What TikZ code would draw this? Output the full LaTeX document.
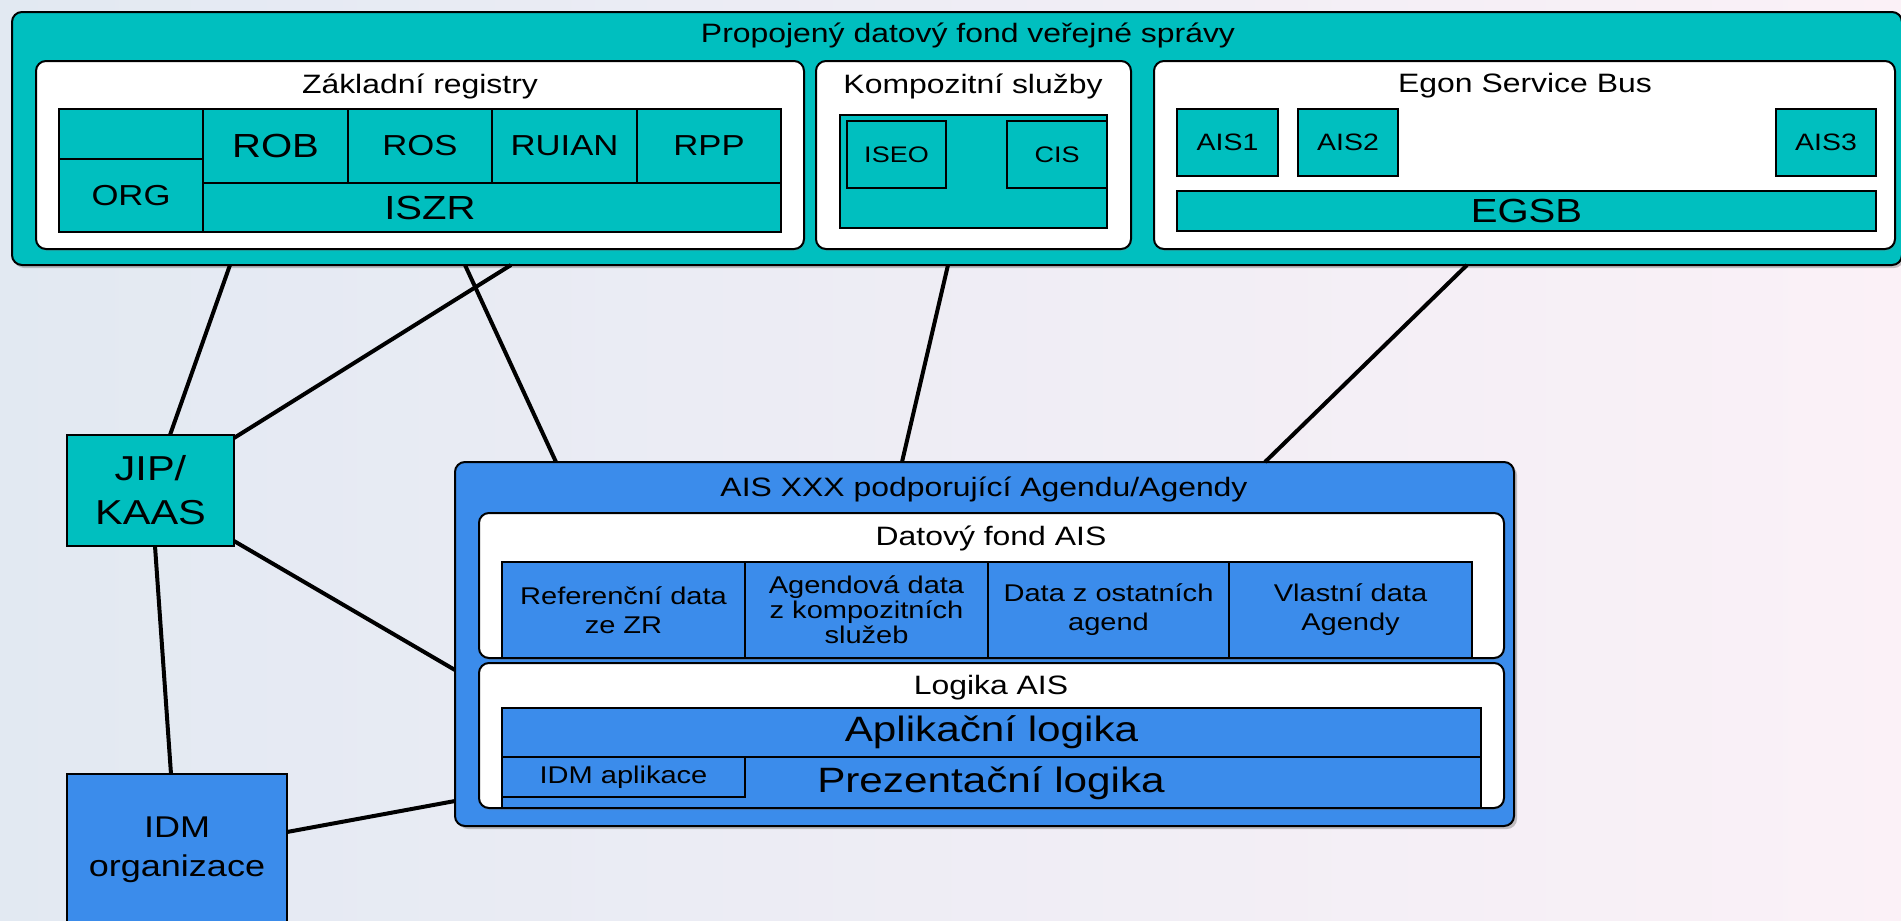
\documentclass[tikz,border=0pt]{standalone}
\usepackage{fontspec}
\setmainfont{Liberation Sans}[FakeStretch=1.2]
\usetikzlibrary{calc,shadows}
\definecolor{tealA}{RGB}{0,191,191}
\definecolor{blueA}{RGB}{59,140,235}
\definecolor{bgL}{RGB}{226,233,242}
\definecolor{bgR}{RGB}{251,241,247}
\newcommand{\ftitle}{\fontsize{26.6}{30}\selectfont}
\newcommand{\fbig}{\fontsize{33.4}{37}\selectfont}
\newcommand{\fmid}{\fontsize{28.9}{32}\selectfont}
\newcommand{\fais}{\fontsize{23.7}{26.5}\selectfont}
\newcommand{\fsm}{\fontsize{22.5}{25}\selectfont}
\newcommand{\fjip}{\fontsize{34.6}{44}\selectfont}
\newcommand{\fidm}{\fontsize{30}{39}\selectfont}
\newcommand{\fdat}{\fontsize{24.2}{29}\selectfont}
\newcommand{\fdatb}{\fontsize{24.2}{25}\selectfont}
\newcommand{\flog}{\fontsize{35.2}{39}\selectfont}
\newcommand{\rbox}[7]{\node[#6, minimum width={(#4-(#2))*1pt}, minimum height={(#5-(#3))*1pt}] (#1) at (#2,#3) {#7};}
\begin{document}
\begin{tikzpicture}[x=1pt,y=-1pt,
  base/.style={anchor=north west, inner sep=0pt, outer sep=0pt, align=center, text=black},
  outerT/.style={base, draw=black, line width=2pt, fill=tealA, rounded corners=10pt,
    drop shadow={shadow xshift=2pt, shadow yshift=-3pt, opacity=0.45}},
  outerB/.style={base, draw=black, line width=2pt, fill=blueA, rounded corners=10pt,
    drop shadow={shadow xshift=3pt, shadow yshift=-3pt, opacity=0.45}},
  wbox/.style={base, draw=black, line width=2pt, fill=white, rounded corners=10pt,
    drop shadow={shadow xshift=1pt, shadow yshift=-2pt, opacity=0.25}},
  cell/.style={base, draw=black, line width=1.8pt, fill=tealA},
  bcell/.style={base, draw=black, line width=1.8pt, fill=blueA},
  txt/.style={inner sep=0pt, align=center, text=black},
  conn/.style={draw=black, line width=4pt}]
\useasboundingbox (0,0) rectangle (1901,921);
\shade[left color=bgL, right color=bgR] (0,0) rectangle (1901,921);
\clip (0,0) rectangle (1901,921);

% top block
\rbox{top}{12}{12}{1902}{265}{outerT}{}
\node[txt, font=\ftitle] (toptitle) at (968,35) {Propojený datový fond veřejné správy};

\rbox{zr}{36}{61}{804}{249}{wbox}{}
\node[txt, font=\ftitle] (zrt) at (420,86) {Základní registry};
\rbox{orgtop}{59}{109}{203}{159}{cell}{}
\rbox{org}{59}{159}{203}{232}{cell,font=\fmid}{ORG}
\rbox{rob}{203}{109}{348}{183}{cell,font=\fbig}{ROB}
\rbox{ros}{348}{109}{492}{183}{cell,font=\fmid}{ROS}
\rbox{ruian}{492}{109}{637}{183}{cell,font=\fmid}{RUIAN}
\rbox{rpp}{637}{109}{781}{183}{cell,font=\fmid}{RPP}
\rbox{iszr}{203}{183}{781}{232}{cell}{}
\node[txt, font=\fbig] (iszrt) at (430,208) {ISZR};

\rbox{ks}{816}{61}{1131}{249}{wbox}{}
\node[txt, font=\ftitle] (kst) at (973,86) {Kompozitní služby};
\rbox{ksin}{840}{115}{1107}{228}{cell}{}
\rbox{iseo}{847}{121}{946}{188}{cell,font=\fsm}{ISEO}
\rbox{cis}{1007}{121}{1107}{188}{cell,font=\fsm}{CIS}

\rbox{esb}{1154}{61}{1895}{249}{wbox}{}
\node[txt, font=\ftitle] (esbt) at (1525,86) {Egon Service Bus};
\rbox{ais1}{1177}{109}{1278}{176}{cell,font=\fais}{AIS1}
\rbox{ais2}{1298}{109}{1398}{176}{cell,font=\fais}{AIS2}
\rbox{ais3}{1776}{109}{1876}{176}{cell,font=\fais}{AIS3}
\rbox{egsb}{1177}{191}{1876}{231}{cell,font=\fbig}{EGSB}

% AIS block
\rbox{ais}{455}{462}{1514}{826}{outerB}{}
\node[txt, font=\ftitle] (aist) at (984,489) {AIS XXX podporující Agendu/Agendy};
\rbox{dfa}{479}{513}{1504}{658}{wbox}{}
\node[txt, font=\ftitle] (dfat) at (991,538) {Datový fond AIS};
\rbox{c1}{502}{562}{745}{658}{bcell,font=\fdat}{Referenční data\\ze ZR}
\rbox{c2}{745}{562}{988}{658}{bcell,font=\fdatb}{Agendová data\\z kompozitních\\služeb}
\rbox{c3}{988}{562}{1229}{658}{bcell,font=\fdat}{Data z ostatních\\agend}
\rbox{c4}{1229}{562}{1472}{658}{bcell,font=\fdat}{Vlastní data\\Agendy}
\rbox{lais}{479}{663}{1504}{808}{wbox}{}
\node[txt, font=\ftitle] (laist) at (991,688) {Logika AIS};
\rbox{apl}{502}{708}{1481}{757}{bcell,font=\flog}{Aplikační logika}
\rbox{prez}{502}{757}{1481}{808}{bcell}{}
\node[txt, font=\flog] (prezt) at (991,783) {Prezentační logika};
\rbox{idmapl}{502}{757}{745}{797}{bcell,font=\fdat}{IDM aplikace}

% left boxes
\rbox{jip}{67}{435}{234}{546}{cell,font=\fjip}{JIP/\\KAAS}
\rbox{idm}{67}{774}{287}{945}{bcell}{}
\node[txt, font=\fidm] (idmt) at (177,850) {IDM\\organizace};

% connectors
\draw[conn] ($(top.south west)+(218,0)$) -- ($(jip.north west)+(103,0)$);
\draw[conn] ($(top.south west)+(499,0)$) -- ($(jip.north east)+(0,3)$);
\draw[conn] ($(top.south west)+(453,0)$) -- ($(ais.north west)+(101,0)$);
\draw[conn] ($(top.south west)+(936,0)$) -- ($(ais.north west)+(447,0)$);
\draw[conn] ($(top.south west)+(1455,0)$) -- ($(ais.north west)+(810,0)$);
\draw[conn] ($(jip.north east)+(0,106)$) -- ($(ais.north west)+(0,208)$);
\draw[conn] ($(jip.south west)+(88,0)$) -- ($(idm.north west)+(104,0)$);
\draw[conn] ($(idm.north east)+(0,58)$) -- ($(ais.north west)+(0,339)$);
\end{tikzpicture}
\end{document}
